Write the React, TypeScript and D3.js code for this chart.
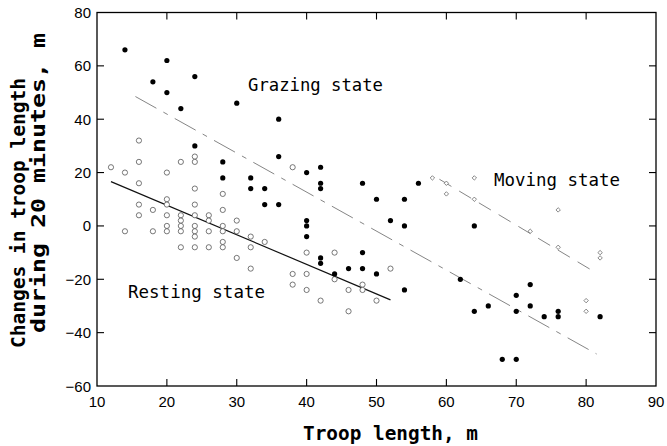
import React from "react";
import * as d3 from "d3";

const restingX = [12,14,16,16,16,20,22,24,24,24,28,20,16,16,14,18,18,20,20,20,20,22,22,22,22,22,24,24,24,24,24,24,26,26,26,26,28,28,28,28,28,30,30,30,32,32,32,34,38,38,38,40,40,40,42,44,44,46,46,48,48,50,52];
const restingY = [22,20,32,24,16,20,24,26,24,14,12,10,8,4,-2,6,-2,8,4,0,-2,4,2,0,-2,-8,8,4,0,-2,-4,-8,4,2,-2,-8,6,0,-2,-6,-8,2,-2,-12,-4,-8,-16,-6,22,-18,-22,-10,-18,-24,-28,-10,-20,-24,-32,-22,-24,-28,-16];

const grazingX = [14,20,18,20,24,22,30,24,28,28,32,32,34,34,36,36,36,40,42,42,42,48,56,50,54,52,54,40,40,40,42,42,44,46,48,48,50,54,64,62,64,66,68,70,70,70,72,72,74,76,76,82];
const grazingY = [66,62,54,50,56,44,46,30,24,18,18,14,14,8,40,26,8,20,22,16,14,16,16,10,10,2,0,2,0,-4,-12,-14,-18,-16,-10,-16,-18,-24,0,-20,-32,-30,-50,-50,-26,-32,-22,-30,-34,-32,-34,-34];

const movingX = [58,60,60,64,64,72,76,76,80,80,82,82];
const movingY = [18,16,12,18,10,-2,6,-8,-28,-32,-10,-12];

const restingLineX = [12, 52];
const restingLineY = [16.6, -27.7];
const grazingLineX = [15.5, 81.5];
const grazingLineY = [48.5, -48];
const movingLineX = [59, 81.5];
const movingLineY = [17.5, -17.7];

const xTicks = [10,20,30,40,50,60,70,80,90];
const yTicks = [-60,-40,-20,0,20,40,60,80];

const W = 667, H = 446;
const L = 97, R = 656, T = 12.5, B = 386;

export default function App() {
  const x = d3.scaleLinear().domain([10, 90]).range([L, R]);
  const y = d3.scaleLinear().domain([-60, 80]).range([B, T]);
  const mono = "'DejaVu Sans Mono', monospace";
  const sans = "'Liberation Sans', Arial, sans-serif";
  const line = (xs: number[], ys: number[]) =>
    d3.line<number>().x((d) => x(xs[d])).y((d) => y(ys[d]))([0, 1]) || "";
  const diamond = (cx: number, cy: number, s: number) =>
    `M${cx},${cy - s}L${cx + s},${cy}L${cx},${cy + s}L${cx - s},${cy}Z`;
  return (
    <svg width={W} height={H} style={{ position: "absolute", left: 0, top: 0, background: "#fff" }}>
      <rect x={0} y={0} width={W} height={H} fill="#fff" />
      {/* frame */}
      <rect x={L} y={T} width={R - L} height={B - T} fill="none" stroke="#000" strokeWidth={1.3} />
      {xTicks.slice(1, -1).map((t) => (
        <g key={"xt" + t}>
          <line x1={x(t)} x2={x(t)} y1={B} y2={B - 7} stroke="#000" strokeWidth={1.1} />
          <line x1={x(t)} x2={x(t)} y1={T} y2={T + 7} stroke="#000" strokeWidth={1.1} />
        </g>
      ))}
      {yTicks.slice(1, -1).map((t) => (
        <g key={"yt" + t}>
          <line x1={L} x2={L + 7} y1={y(t)} y2={y(t)} stroke="#000" strokeWidth={1.1} />
          <line x1={R} x2={R - 7} y1={y(t)} y2={y(t)} stroke="#000" strokeWidth={1.1} />
        </g>
      ))}
      {xTicks.map((t) => (
        <text key={"xl" + t} x={x(t)} y={B + 21} textAnchor="middle" fontFamily={sans} fontSize={15}>
          {t}
        </text>
      ))}
      {yTicks.map((t) => (
        <text key={"yl" + t} x={L - 6} y={y(t) + 5.5} textAnchor="end" fontFamily={sans} fontSize={15}>
          {t < 0 ? "\u2212" + Math.abs(t) : t}
        </text>
      ))}
      {/* lines */}
      <path d={line(restingLineX, restingLineY)} stroke="#111" strokeWidth={1.2} fill="none" />
      <path d={line(grazingLineX, grazingLineY)} stroke="#777" strokeWidth={0.9} fill="none" strokeDasharray="24 8 5 8" />
      <path d={line(movingLineX, movingLineY)} stroke="#777" strokeWidth={0.9} fill="none" strokeDasharray="14 9" />
      {/* points */}
      {restingX.map((v, i) => (
        <circle key={"r" + i} cx={x(v)} cy={y(restingY[i])} r={2.6} fill="#fff" stroke="#555" strokeWidth={0.8} />
      ))}
      {grazingX.map((v, i) => (
        <circle key={"g" + i} cx={x(v)} cy={y(grazingY[i])} r={2.6} fill="#000" />
      ))}
      {movingX.map((v, i) => (
        <path key={"m" + i} d={diamond(x(v), y(movingY[i]), 2.2)} fill="#fff" stroke="#555" strokeWidth={0.7} />
      ))}
      {/* annotations */}
      <text x={248} y={91} fontFamily={mono} fontSize={17} textLength={135} lengthAdjust="spacingAndGlyphs">Grazing state</text>
      <text x={128} y={298} fontFamily={mono} fontSize={17} textLength={137} lengthAdjust="spacingAndGlyphs">Resting state</text>
      <text x={494} y={186} fontFamily={mono} fontSize={17} textLength={126} lengthAdjust="spacingAndGlyphs">Moving state</text>
      {/* axis titles */}
      <text x={303} y={440} fontFamily={mono} fontWeight="bold" fontSize={20} textLength={175} lengthAdjust="spacingAndGlyphs">Troop length, m</text>
      <text transform="translate(25,348) rotate(-90)" fontFamily={mono} fontWeight="bold" fontSize={20} textLength={270} lengthAdjust="spacingAndGlyphs">Changes in troop length</text>
      <text transform="translate(45,333) rotate(-90)" fontFamily={mono} fontWeight="bold" fontSize={20} textLength={300} lengthAdjust="spacingAndGlyphs">during 20 minutes,  m</text>
    </svg>
  );
}
